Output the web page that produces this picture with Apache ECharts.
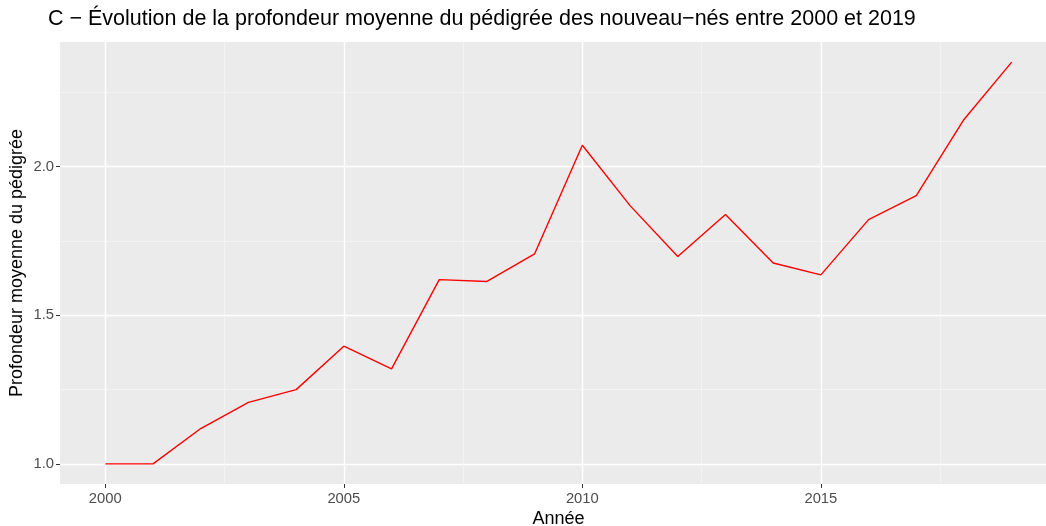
<!DOCTYPE html>
<html>
<head>
<meta charset="utf-8">
<script src="https://cdn.jsdelivr.net/npm/echarts@6/dist/echarts.min.js"></script>
<style>html,body{margin:0;padding:0;background:#fff}#c{width:1046px;height:526px}</style>
</head>
<body>
<div id="c"></div>
<script>
const titleText = "C \u2212 \u00c9volution de la profondeur moyenne du p\u00e9digr\u00e9e des nouveau\u2212n\u00e9s entre 2000 et 2019";
const xTitle = "Ann\u00e9e";
const yTitle = "Profondeur moyenne du p\u00e9digr\u00e9e";
const years = [2000,2001,2002,2003,2004,2005,2006,2007,2008,2009,2010,2011,2012,2013,2014,2015,2016,2017,2018,2019];
const depth = [1.000,1.000,1.119,1.207,1.250,1.396,1.320,1.620,1.614,1.707,2.072,1.869,1.698,1.839,1.676,1.636,1.822,1.903,2.159,2.352];
const xMajor = [2000,2005,2010,2015];
const xMinor = [2002.5,2007.5,2012.5,2017.5];
const yMajor = [1.0,1.5,2.0];
const yMinor = [1.25,1.75,2.25];

const xMin = 1999.05, xMax = 2019.95;
const yMin = 0.9324, yMax = 2.4196;

const chart = echarts.init(document.getElementById('c'), null, {renderer:'canvas'});
const font = '"Liberation Sans", Arial, sans-serif';
const baseAxis = {
  type:'value', axisLine:{show:false}, minorTick:{show:false}, minorSplitLine:{show:false}
};
chart.setOption({
  backgroundColor:'#ffffff',
  animation:false,
  title:{text:titleText, left:43, top:3, textStyle:{fontFamily:font, fontSize:21.5, fontWeight:'normal', color:'#000'}},
  grid:{left:60, top:42, width:997, height:442, backgroundColor:'#EBEBEB', show:true, borderWidth:0, outerBoundsMode:'none', containLabel:false},
  xAxis:[
    Object.assign({}, baseAxis, {min:xMin, max:xMax, position:'bottom',
      name:xTitle, nameLocation:'middle', nameGap:26, nameMoveOverlap:false, nameTextStyle:{fontFamily:font, fontSize:18, color:'#000'},
      axisTick:{show:true, length:4, lineStyle:{color:'#333333', width:1}, customValues:xMajor},
      axisLabel:{fontFamily:font, fontSize:14.8, color:'#4D4D4D', margin:7, formatter:v=>String(Math.round(v)), customValues:xMajor},
      splitLine:{show:true, lineStyle:{color:'#ffffff', width:1.4}}}),
    Object.assign({}, baseAxis, {min:xMin, max:xMax, position:'bottom', show:true,
      axisTick:{show:false, customValues:xMinor}, axisLabel:{show:false, customValues:xMinor},
      splitLine:{show:true, lineStyle:{color:'#F5F5F5', width:0.8}}})
  ],
  yAxis:[
    Object.assign({}, baseAxis, {min:yMin, max:yMax, position:'left',
      name:yTitle, nameLocation:'middle', nameGap:34, nameMoveOverlap:false, nameTextStyle:{fontFamily:font, fontSize:18, color:'#000'},
      axisTick:{show:true, length:4, lineStyle:{color:'#333333', width:1}, customValues:yMajor},
      axisLabel:{fontFamily:font, fontSize:14.8, color:'#4D4D4D', margin:6, formatter:v=>v.toFixed(1), customValues:yMajor},
      splitLine:{show:true, lineStyle:{color:'#ffffff', width:1.4}}}),
    Object.assign({}, baseAxis, {min:yMin, max:yMax, position:'left', show:true,
      axisTick:{show:false, customValues:yMinor}, axisLabel:{show:false, customValues:yMinor},
      splitLine:{show:true, lineStyle:{color:'#F5F5F5', width:0.8}}})
  ],
  series:[{
    type:'line', xAxisIndex:0, yAxisIndex:0,
    data:years.map((y,i)=>[y, depth[i]]),
    showSymbol:false, symbol:'none',
    lineStyle:{color:'#FF0000', width:1.4},
    z:10
  }]
});
</script>
</body>
</html>
